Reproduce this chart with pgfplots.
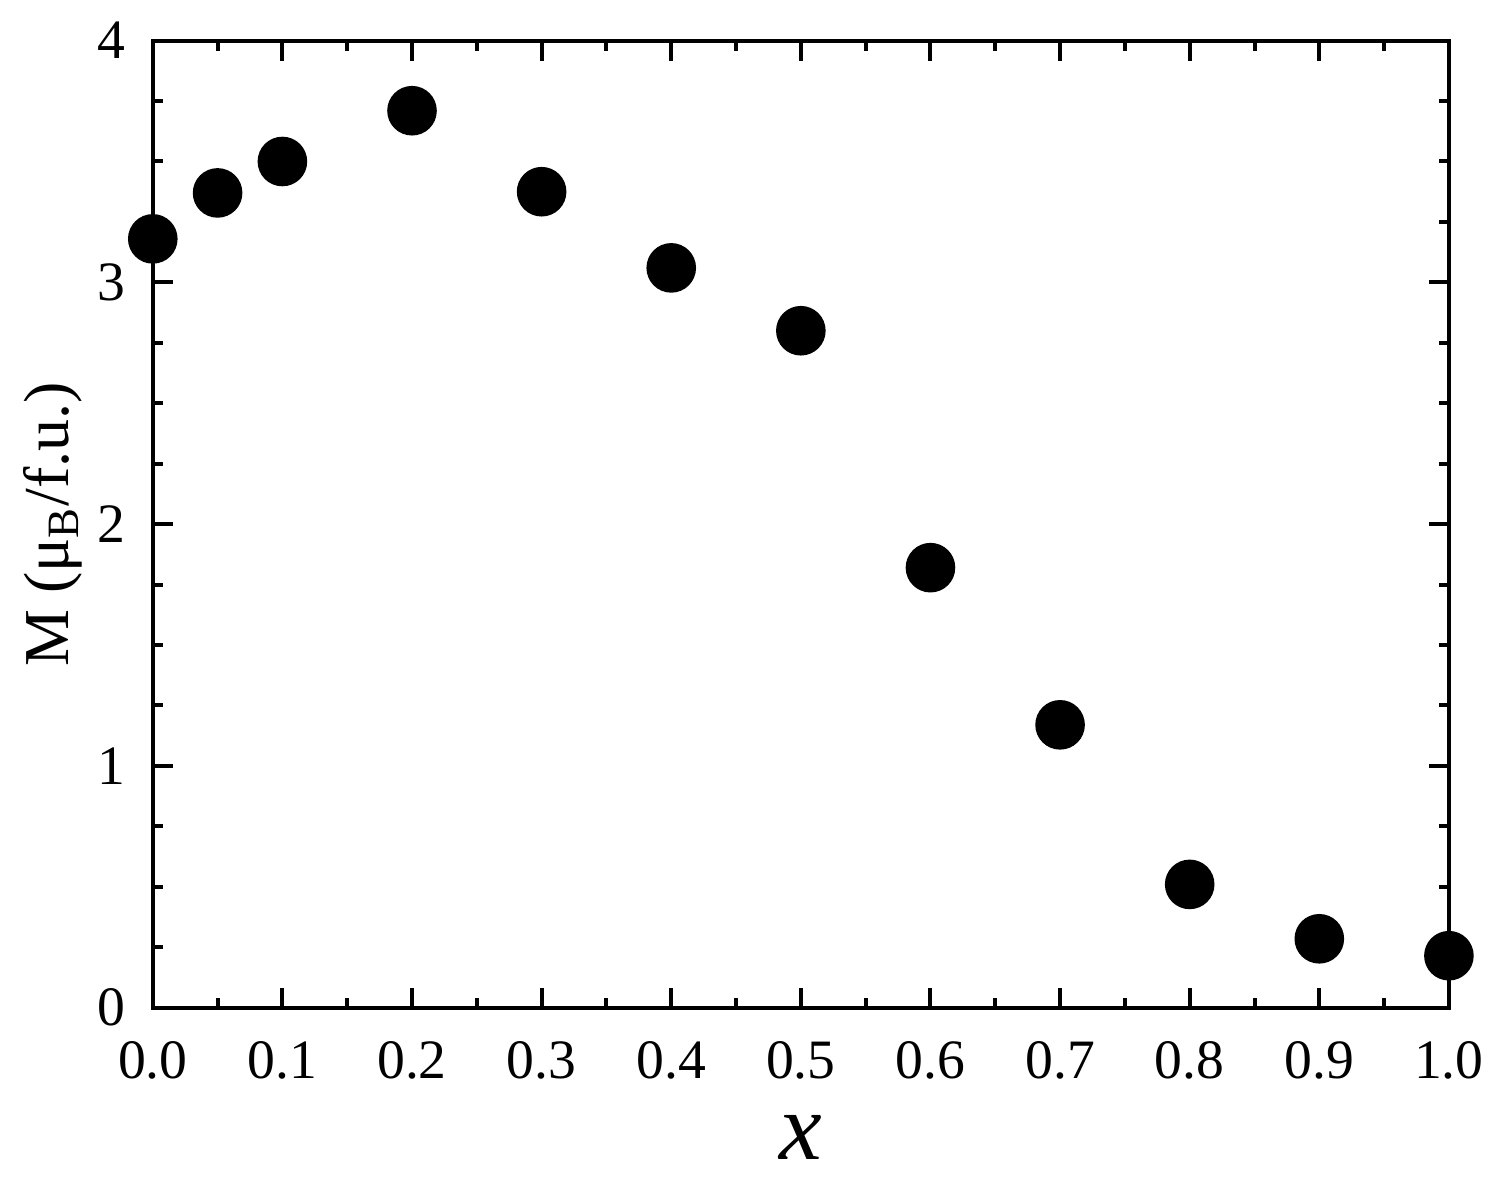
\documentclass[border={5.75pt 9.75pt 2pt 2.25pt}]{standalone}
\usepackage{fontspec}
\setmainfont{Liberation Serif}
\usepackage{pgfplots}
\pgfplotsset{compat=1.18}

\begin{document}
\begin{tikzpicture}
\begin{axis}[
    scale only axis,
    width=324pt, height=241.75pt,
    xmin=0, xmax=1, ymin=0, ymax=4,
    xtick={0,0.1,...,1.0},
    ytick={0,1,2,3,4},
    minor x tick num=1,
    minor y tick num=3,
    tick align=inside,
    major tick length=5pt,
    minor tick length=2.5pt,
    every tick/.style={line width=1pt, black},
    axis line style={line width=1pt},
    xticklabel style={/pgf/number format/fixed, /pgf/number format/fixed zerofill, /pgf/number format/precision=1, yshift=-5pt},
    yticklabel style={xshift=-3.25pt},
    /pgf/number format/assume math mode=true,
    ticklabel style={font=\fontsize{13.9}{16}\selectfont},
    xlabel={\fontsize{24}{28}\selectfont\textit{x}},
    ylabel={\fontsize{16}{19}\selectfont M (μ\textsubscript{B}/f.u.)},
    xlabel style={at={(axis description cs:0.5,0)}, anchor=center, inner sep=0pt, yshift=-32.5pt},
    ylabel style={at={(axis description cs:0,0.5)}, anchor=center, inner sep=0pt, yshift=25.1pt},
    clip=false,
]
\addplot[only marks, mark=*, mark size=6pt, black] coordinates {
(0.0,3.18) (0.05,3.37) (0.1,3.50) (0.2,3.71) (0.3,3.375) (0.4,3.06)
(0.5,2.80) (0.6,1.82) (0.7,1.17) (0.8,0.51) (0.9,0.285) (1.0,0.215)
};
\end{axis}
\end{tikzpicture}
\end{document}
